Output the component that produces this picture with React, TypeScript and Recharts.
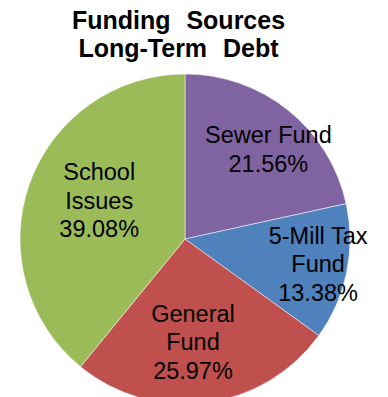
import React from 'react';
import { PieChart, Pie, Cell } from 'recharts';

// chart data
const categories = ['Sewer Fund', '5-Mill Tax\nFund', 'General\nFund', 'School\nIssues'];
const shares = [21.56, 13.38, 25.97, 39.08];
const colors = ['#8064A2', '#4F81BD', '#C0504D', '#9BBB59'];
const titleLines = ['Funding Sources', 'Long-Term Debt'];

// label tweaks (pixel nudges from the mid-angle point)
const labelNudge: [number, number][] = [
  [11, 0],
  [20, 1],
  [-7, -12],
  [23, 0]
];

const RADIAN = Math.PI / 180;
const FONT = '"Liberation Sans", Arial, sans-serif';

const data = categories.map((name, i) => ({ name, value: shares[i] }));

type LabelProps = {
  cx: number;
  cy: number;
  midAngle: number;
  outerRadius: number;
  index: number;
  name: string;
  value: number;
};

const renderLabel = ({ cx, cy, midAngle, outerRadius, index, name, value }: LabelProps) => {
  const r = outerRadius * 0.7;
  const x = cx + r * Math.cos(-midAngle * RADIAN) + labelNudge[index][0];
  const y = cy + r * Math.sin(-midAngle * RADIAN) + labelNudge[index][1];
  const lines = [...name.split('\n'), `${value.toFixed(2)}%`];
  const step = 28.5;
  const top = y - ((lines.length - 1) / 2) * step + 8.6;
  return (
    <text
      x={x}
      y={top}
      textAnchor="middle"
      fill="#000"
      style={{ fontFamily: FONT, fontSize: 23.5 }}
    >
      {lines.map((ln, i) => (
        <tspan key={i} x={x} y={top + i * step}>
          {ln}
        </tspan>
      ))}
    </text>
  );
};

export default function App() {
  return (
    <div style={{ position: 'absolute', left: 0, top: 0, width: 388, height: 397, background: '#fff', overflow: 'hidden' }}>
      <PieChart width={388} height={397} margin={{ top: 0, right: 0, bottom: 0, left: 0 }}>
        <Pie
          data={data}
          dataKey="value"
          nameKey="name"
          cx={185}
          cy={239}
          outerRadius={165}
          startAngle={90}
          endAngle={-270}
          stroke="#ffffff"
          strokeWidth={0.5}
          label={renderLabel}
          labelLine={false}
          isAnimationActive={false}
        >
          {data.map((d, i) => (
            <Cell key={d.name} fill={colors[i]} />
          ))}
        </Pie>
      </PieChart>
      <div
        style={{
          position: 'absolute',
          left: 0,
          top: 6,
          width: 357,
          textAlign: 'center',
          fontFamily: FONT,
          fontWeight: 'bold',
          fontSize: 25,
          lineHeight: '28px',
          wordSpacing: 9,
          color: '#000'
        }}
      >
        {titleLines.map((t) => (
          <div key={t}>{t}</div>
        ))}
      </div>
    </div>
  );
}
